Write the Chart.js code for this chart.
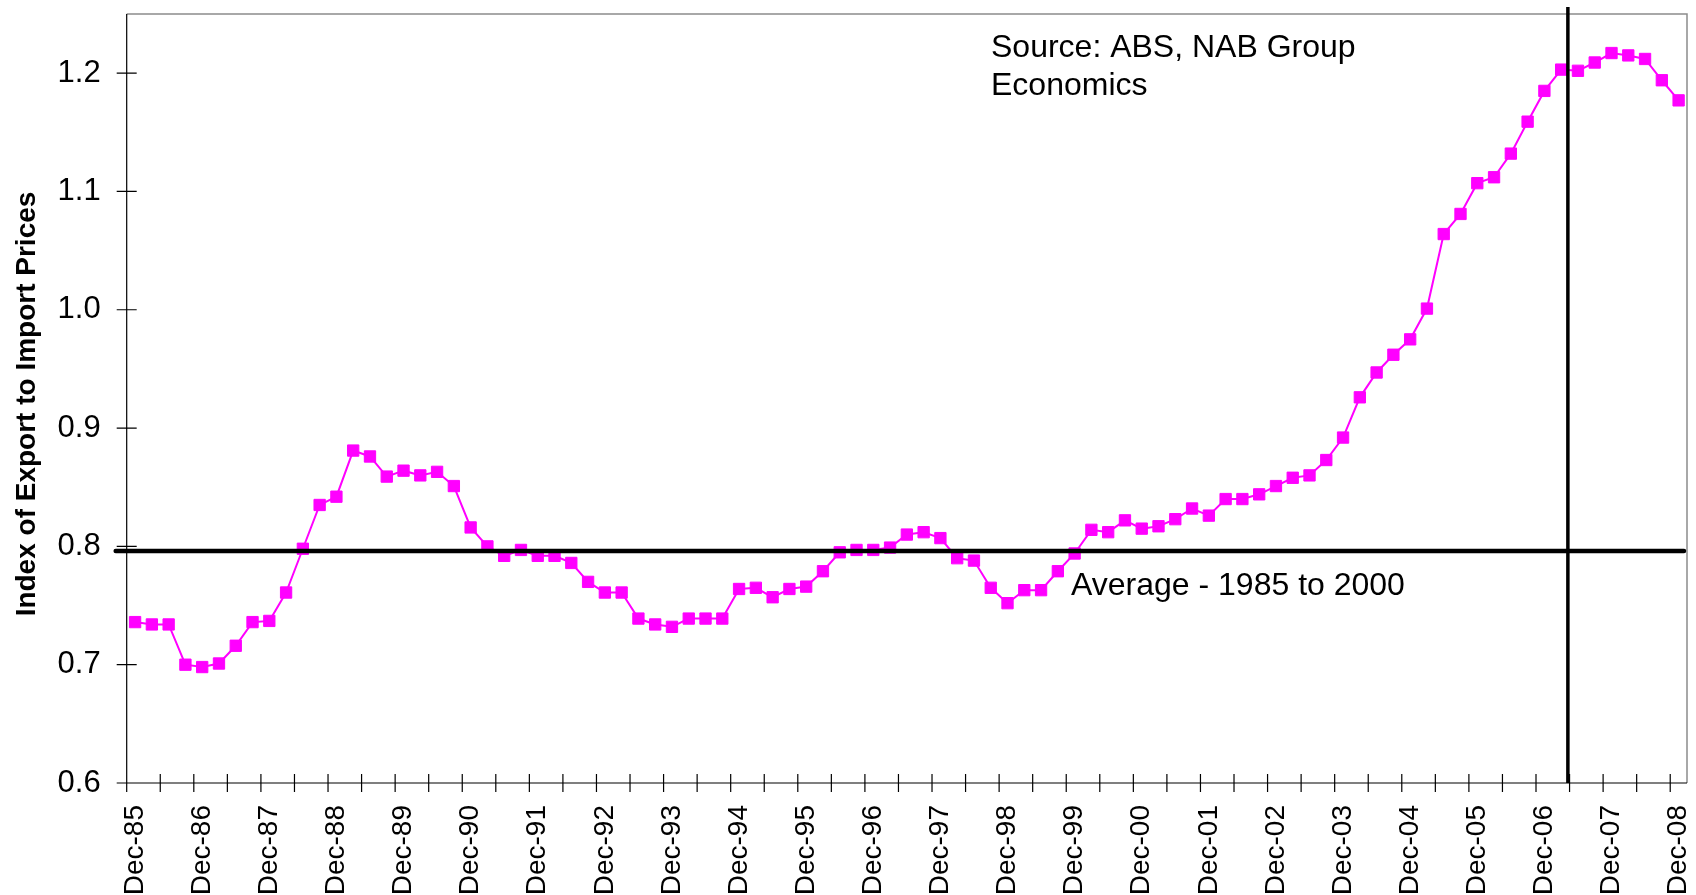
<!DOCTYPE html>
<html>
<head>
<meta charset="utf-8">
<script src="https://cdn.jsdelivr.net/npm/chart.js@4/dist/chart.umd.min.js"></script>
<style>
  html, body { margin: 0; padding: 0; background: #fff; }
  #wrap { width: 1696px; height: 895px; }
</style>
</head>
<body>
<div id="wrap"><canvas id="chart" width="1696" height="895"></canvas></div>
<script>
// yearly tick labels, one every 4 quarters
const tickLabels = ['Dec-85', 'Dec-86', 'Dec-87', 'Dec-88', 'Dec-89', 'Dec-90', 'Dec-91', 'Dec-92',
  'Dec-93', 'Dec-94', 'Dec-95', 'Dec-96', 'Dec-97', 'Dec-98', 'Dec-99', 'Dec-00', 'Dec-01',
  'Dec-02', 'Dec-03', 'Dec-04', 'Dec-05', 'Dec-06', 'Dec-07', 'Dec-08'];

// quarterly index of export to import prices, Dec-85 .. Dec-08
const ratio = [
  0.736, 0.734, 0.734, 0.700, 0.698, 0.701, 0.716, 0.736,
  0.737, 0.761, 0.798, 0.835, 0.842, 0.881, 0.876, 0.859,
  0.864, 0.860, 0.863, 0.851, 0.816, 0.800, 0.792, 0.797,
  0.792, 0.792, 0.786, 0.770, 0.761, 0.761, 0.739, 0.734,
  0.732, 0.739, 0.739, 0.739, 0.764, 0.765, 0.757, 0.764,
  0.766, 0.779, 0.795, 0.797, 0.797, 0.799, 0.810, 0.812,
  0.807, 0.790, 0.788, 0.765, 0.752, 0.763, 0.763, 0.779,
  0.794, 0.814, 0.812, 0.822, 0.815, 0.817, 0.823, 0.832,
  0.826, 0.840, 0.840, 0.844, 0.851, 0.858, 0.860, 0.873,
  0.892, 0.926, 0.947, 0.962, 0.975, 1.001, 1.064, 1.081,
  1.107, 1.112, 1.132, 1.159, 1.185, 1.203, 1.202, 1.209,
  1.217, 1.215, 1.212, 1.194, 1.177
];

const yTicks = [0.6, 0.7, 0.8, 0.9, 1.0, 1.1, 1.2];
const averageLevel = 0.796;     // average 1985 to 2000
const markerQuarter = 85.4;     // vertical divider, in quarter units

const labels = ratio.map((v, i) => (i % 4 === 0 ? tickLabels[i / 4] : ''));
const FONT = '"Liberation Sans", Arial, sans-serif';

const frame = {
  id: 'frame',
  beforeDatasetsDraw(chart) {
    const { ctx, chartArea: a, scales: { x, y } } = chart;
    ctx.save();
    ctx.strokeStyle = '#8c8c8c';
    ctx.lineWidth = 1.5;
    ctx.beginPath();
    ctx.moveTo(a.left, a.top);
    ctx.lineTo(a.right, a.top);
    ctx.lineTo(a.right, a.bottom);
    ctx.stroke();

    ctx.strokeStyle = '#000';
    ctx.lineWidth = 1.2;
    ctx.beginPath();
    ctx.moveTo(a.left, a.top);
    ctx.lineTo(a.left, a.bottom);
    ctx.lineTo(a.right, a.bottom);
    // tick marks cross the axes
    yTicks.forEach(v => {
      const py = y.getPixelForValue(v);
      ctx.moveTo(a.left - 10, py);
      ctx.lineTo(a.left + 10, py);
    });
    for (let k = -0.5; k < ratio.length - 0.5; k += 2) {
      const px = x.getPixelForValue(k);
      ctx.moveTo(px, a.bottom - 9);
      ctx.lineTo(px, a.bottom + 9);
    }
    ctx.stroke();

    // axis title
    ctx.fillStyle = '#000';
    ctx.font = 'bold 28px ' + FONT;
    ctx.textAlign = 'center';
    ctx.textBaseline = 'middle';
    ctx.translate(27, 404);
    ctx.rotate(-Math.PI / 2);
    ctx.fillText('Index of Export to Import Prices', 0, 0);
    ctx.restore();
  },
  afterDatasetsDraw(chart) {
    const { ctx, chartArea: a, scales: { x, y } } = chart;
    ctx.save();
    // average line
    const ay = y.getPixelForValue(averageLevel);
    ctx.strokeStyle = '#000';
    ctx.lineCap = 'round';
    ctx.lineWidth = 4.5;
    ctx.beginPath();
    ctx.moveTo(a.left - 11, ay);
    ctx.lineTo(a.right - 3, ay);
    ctx.stroke();
    // vertical divider
    const mx = x.getPixelForValue(markerQuarter);
    ctx.lineCap = 'butt';
    ctx.lineWidth = 3.5;
    ctx.beginPath();
    ctx.moveTo(mx, a.top - 7);
    ctx.lineTo(mx, a.bottom);
    ctx.stroke();

    ctx.fillStyle = '#000';
    ctx.font = '32px ' + FONT;
    ctx.textBaseline = 'alphabetic';
    ctx.fillText('Source: ABS, NAB Group', 991, 57);
    ctx.fillText('Economics', 991, 95);
    ctx.fillText('Average - 1985 to 2000', 1071, 595);
    ctx.restore();
  }
};

new Chart(document.getElementById('chart'), {
  type: 'line',
  data: {
    labels: labels,
    datasets: [{
      data: ratio,
      borderColor: '#ff00ff',
      backgroundColor: '#ff00ff',
      borderWidth: 2,
      pointStyle: 'rect',
      pointRadius: 8,
      pointBorderWidth: 1,
      pointBorderColor: '#ff00ff',
      pointBackgroundColor: '#ff00ff',
      tension: 0
    }]
  },
  options: {
    responsive: false,
    devicePixelRatio: 1,
    animation: false,
    layout: { padding: { top: 14, right: 6, left: 0, bottom: 0 } },
    plugins: { legend: { display: false }, tooltip: { enabled: false } },
    scales: {
      x: {
        type: 'category',
        offset: true,
        grid: { display: false, drawTicks: false },
        border: { display: false },
        ticks: {
          autoSkip: false,
          minRotation: 90,
          maxRotation: 90,
          padding: 22,
          color: '#000',
          font: { family: FONT, size: 28 }
        },
        afterFit(scale) {
          scale.height = 112;
          scale.paddingLeft = 0;
          scale.paddingRight = 0;
        }
      },
      y: {
        min: 0.6,
        max: 1.25,
        grid: { display: false, drawTicks: false },
        border: { display: false },
        afterBuildTicks(scale) { scale.ticks = yTicks.map(v => ({ value: v })); },
        ticks: {
          padding: 26,
          color: '#000',
          font: { family: FONT, size: 31 },
          callback: v => v.toFixed(1)
        },
        afterFit(scale) {
          scale.width = 126.7;
          scale.paddingTop = 0;
          scale.paddingBottom = 0;
        }
      }
    }
  },
  plugins: [frame]
});
</script>
</body>
</html>
